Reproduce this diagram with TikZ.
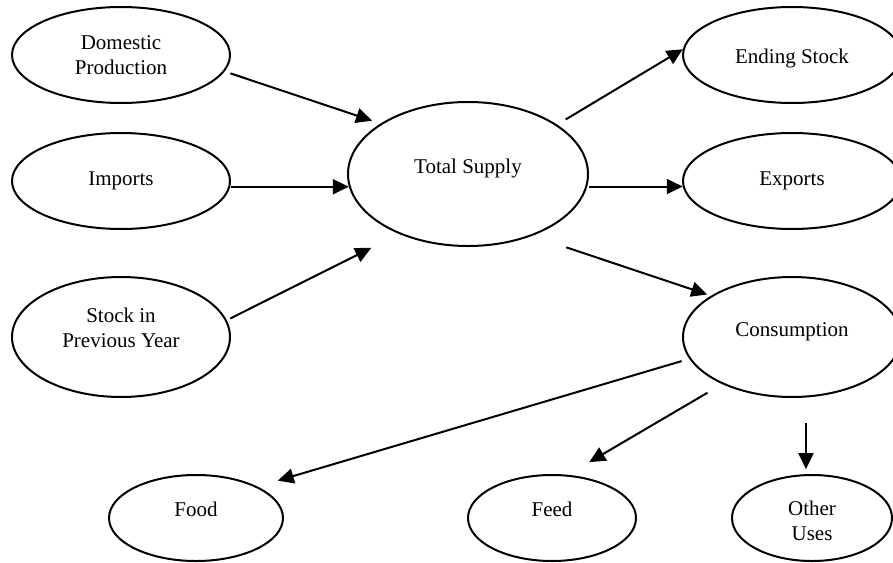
\documentclass[tikz,border=0pt]{standalone}
\usepackage{fontspec}
\setmainfont{Liberation Serif}
\usetikzlibrary{shapes.geometric}
\usetikzlibrary{arrows.meta}
\tikzstyle{flow}=[x=1pt, y=-1pt, line width=2pt, font=\fontsize{21}{25}\selectfont]
\tikzstyle{oval}=[ellipse, draw, inner sep=0pt, minimum width=218pt, minimum height=96pt]
\tikzstyle{big}=[minimum width=240pt, minimum height=144pt]
\tikzstyle{tall}=[minimum height=120pt]
\tikzstyle{small}=[minimum height=86pt]
\tikzstyle{every label}=[align=center]
\tikzstyle{edge}=[-{Triangle[length=16pt, width=15pt]}]

\begin{document}
\begin{tikzpicture}[flow]
\useasboundingbox (0,0) rectangle (893,562);

% sources
\node[oval, label={center:Domestic\\Production}] (dom) at (121,55) {};
\node[oval, label={center:Imports}] (imp) at (121,181) {};
\node[oval, tall, label={[yshift=9pt]center:Stock in\\Previous Year}] (stock) at (121,337) {};

\node[oval, big, label={[yshift=6pt]center:Total Supply}] (tot) at (468,174) {};

% uses
\node[oval, label={[yshift=-3pt]center:Ending Stock}] (end) at (792,55) {};
\node[oval, label={center:Exports}] (exp) at (792,181) {};
\node[oval, tall, label={[yshift=5pt]center:Consumption}] (cons) at (792,337) {};

\node[oval, small, minimum width=174pt, label={[yshift=9pt]center:Food}] (food) at (196,518) {};
\node[oval, small, minimum width=168pt, label={[yshift=9pt]center:Feed}] (feed) at (552,518) {};
\node[oval, small, minimum width=160pt, label={[yshift=-3pt]center:Other\\Uses}] (other) at (812,518) {};

\draw[edge, shorten <=6pt, shorten >=9pt] (dom.-9) -- (tot.150);
\draw[edge, shorten <=1pt] (imp.-3) -- (imp.-3 -| tot.186);
\draw[edge, shorten <=4pt, shorten >=31pt] (stock.9) -- (tot.221);

\draw[edge, shorten <=10pt] (tot.29) -- (end.177);
\draw[edge, shorten <=2pt] (tot.-6) -- (tot.-6 -| exp.183);
\draw[edge, shorten <=36pt, shorten >=4pt] (tot.-44.5) -- (cons.153);

\draw[edge, shorten <=8pt, shorten >=21pt] (cons.192.6) -- (food.27);
\draw[edge, shorten <=17pt, shorten >=25pt] (cons.214) -- (feed.70);
\draw[edge, shorten <=25pt, shorten >=5pt] (cons.-77.7) -- (cons.-77.7 |- other.99.3);
\end{tikzpicture}
\end{document}
